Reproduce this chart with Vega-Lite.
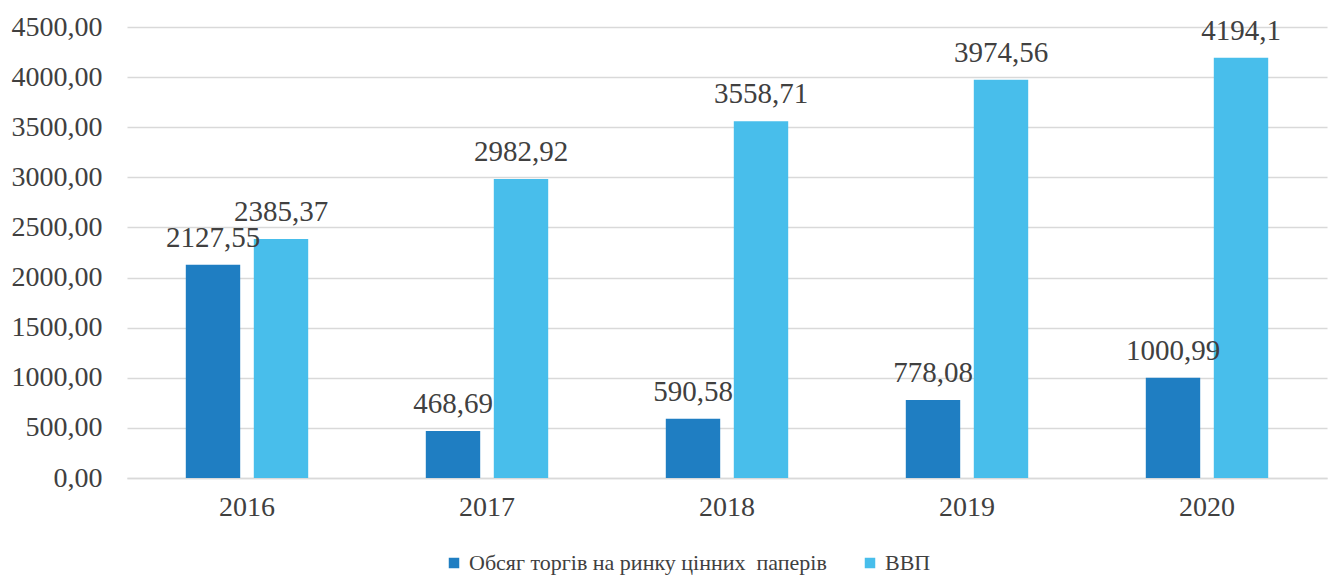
{
  "$schema": "https://vega.github.io/schema/vega-lite/v6.json",
  "autosize": {"type": "none"},
  "width": 1200,
  "height": 451,
  "padding": {"left": 127, "top": 27, "right": 1, "bottom": 98},
  "background": "white",
  "data": {
    "values": [
      {"year": "2016", "series": "Обсяг торгів на ринку цінних  паперів", "value": 2127.55},
      {"year": "2016", "series": "ВВП", "value": 2385.37},
      {"year": "2017", "series": "Обсяг торгів на ринку цінних  паперів", "value": 468.69},
      {"year": "2017", "series": "ВВП", "value": 2982.92},
      {"year": "2018", "series": "Обсяг торгів на ринку цінних  паперів", "value": 590.58},
      {"year": "2018", "series": "ВВП", "value": 3558.71},
      {"year": "2019", "series": "Обсяг торгів на ринку цінних  паперів", "value": 778.08},
      {"year": "2019", "series": "ВВП", "value": 3974.56},
      {"year": "2020", "series": "Обсяг торгів на ринку цінних  паперів", "value": 1000.99},
      {"year": "2020", "series": "ВВП", "value": 4194.1}
    ]
  },
  "encoding": {
    "x": {
      "field": "year", "type": "nominal", "title": null,
      "scale": {"paddingInner": 0.49, "paddingOuter": 0.245},
      "axis": {"labelAngle": 0, "domain": true, "domainColor": "#D9D9D9", "domainWidth": 1.5, "ticks": false, "labelPadding": 15, "labelFontSize": 28, "labelColor": "#404040", "grid": false}
    },
    "xOffset": {
      "field": "series", "type": "nominal",
      "sort": ["Обсяг торгів на ринку цінних  паперів", "ВВП"],
      "scale": {"paddingInner": 0.2, "paddingOuter": 0}
    },
    "y": {
      "field": "value", "type": "quantitative", "title": null,
      "scale": {"domain": [0, 4500], "nice": false},
      "axis": {"values": [0, 500, 1000, 1500, 2000, 2500, 3000, 3500, 4000, 4500], "format": ".2f", "domain": false, "ticks": false, "labelPadding": 25, "labelFontSize": 28, "labelColor": "#404040", "gridColor": "#D9D9D9", "gridWidth": 1.5}
    },
    "color": {
      "field": "series", "type": "nominal",
      "sort": ["Обсяг торгів на ринку цінних  паперів", "ВВП"],
      "scale": {"domain": ["Обсяг торгів на ринку цінних  паперів", "ВВП"], "range": ["#1F7EC2", "#48BEEB"]},
      "legend": {
        "title": null, "orient": "none", "direction": "horizontal",
        "legendX": 316, "legendY": 525,
        "symbolType": "square", "symbolSize": 110, "symbolStrokeWidth": 0,
        "labelFontSize": 22, "labelColor": "#404040", "labelLimit": 0,
        "labelExpr": "replace(datum.label, '  ', ' \u00a0')",
        "labelOffset": 4, "columnPadding": 32
      }
    }
  },
  "layer": [
    {"mark": {"type": "bar"}},
    {
      "mark": {"type": "text", "baseline": "alphabetic", "dy": -18, "fontSize": 29, "color": "#404040"},
      "encoding": {
        "text": {"field": "value", "type": "quantitative", "format": ".2~f"},
        "color": {"value": "#404040"}
      }
    }
  ],
  "config": {
    "font": "'Liberation Serif', 'Times New Roman', serif",
    "view": {"stroke": null},
    "locale": {"number": {"decimal": ",", "thousands": "", "grouping": [3], "currency": ["", ""]}}
  }
}
